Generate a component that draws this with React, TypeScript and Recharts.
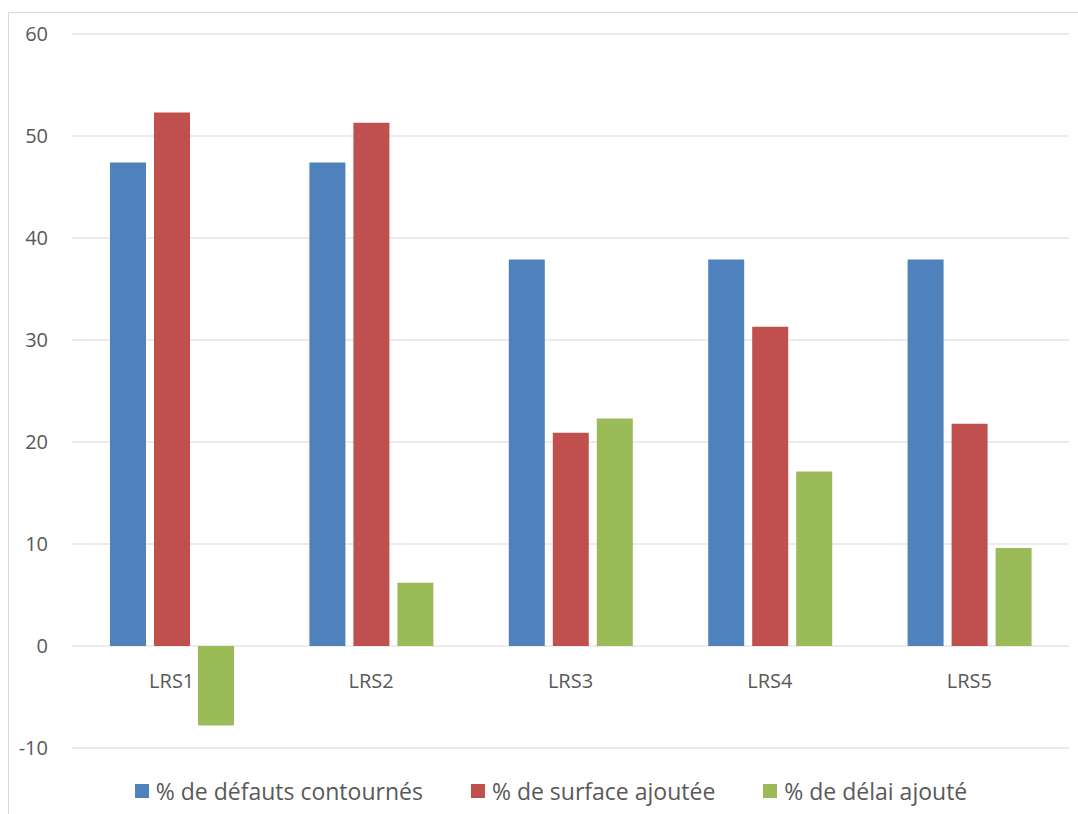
import React from "react";
import { BarChart, Bar, XAxis, YAxis, CartesianGrid, Legend } from "recharts";

const categories = ["LRS1", "LRS2", "LRS3", "LRS4", "LRS5"];
const defautsContournes = [47.4, 47.4, 37.9, 37.9, 37.9];
const surfaceAjoutee = [52.3, 51.3, 20.9, 31.3, 21.8];
const delaiAjoute = [-7.8, 6.2, 22.3, 17.1, 9.6];
const yTicks = [-10, 0, 10, 20, 30, 40, 50, 60];

const seriesNames = ["% de défauts contournés", "% de surface ajoutée", "% de délai ajouté"];
const colors = ["#4F81BD", "#C0504D", "#9BBB59"];

const data = categories.map((c, i) => ({
  name: c,
  a: defautsContournes[i],
  b: surfaceAjoutee[i],
  c: delaiAjoute[i],
}));

const W = 1078;
const H = 814;
const M_TOP = 34;
const LEGEND_H = 40;
const XAXIS_H = 26;
const PLOT_BOTTOM = H - LEGEND_H - XAXIS_H;
const Y_MIN = yTicks[0];
const Y_MAX = yTicks[yTicks.length - 1];
const ZERO_Y = M_TOP + ((PLOT_BOTTOM - M_TOP) * (Y_MAX - 0)) / (Y_MAX - Y_MIN);

const FONT = "'Open Sans', sans-serif";
const TEXT = "#595959";

const XTick = (props: any) => {
  const { x, payload } = props;
  return (
    <text x={x} y={ZERO_Y + 42} textAnchor="middle" fill={TEXT} fontSize={20} fontFamily={FONT}>
      {payload.value}
    </text>
  );
};

const LegendContent = () => (
  <div
    style={{
      height: LEGEND_H,
      display: "flex",
      justifyContent: "center",
      alignItems: "flex-start",
      paddingTop: 4,
      boxSizing: "border-box",
      gap: 48,
      fontFamily: FONT,
      fontSize: 23,
      color: TEXT,
      lineHeight: "26px",
      paddingLeft: 21,
    }}
  >
    {seriesNames.map((n, i) => (
      <div key={n} style={{ display: "flex", alignItems: "center" }}>
        <span style={{ width: 14, height: 14, background: colors[i], marginRight: 7, display: "inline-block" }} />
        <span>{n}</span>
      </div>
    ))}
  </div>
);

export default function App() {
  return (
    <div style={{ position: "absolute", left: 0, top: 0, width: W, height: H, background: "#fff", overflow: "hidden" }}>
      <div
        style={{
          position: "absolute",
          left: 8,
          top: 12,
          width: 1090,
          height: 820,
          border: "1px solid #d9d9d9",
        }}
      />
      <div style={{ position: "absolute", left: 0, top: 0 }}>
        <BarChart
          width={W}
          height={H}
          data={data}
          margin={{ top: M_TOP, right: 9, left: 12, bottom: 0 }}
          barCategoryGap={38}
          barGap={8}
        >
          <CartesianGrid vertical={false} stroke="#d9d9d9" strokeWidth={1} />
          <XAxis
            dataKey="name"
            axisLine={false}
            tickLine={false}
            height={XAXIS_H}
            tick={<XTick />}
            interval={0}
          />
          <YAxis
            domain={[Y_MIN, Y_MAX]}
            ticks={yTicks}
            axisLine={false}
            tickLine={false}
            width={60}
            tickMargin={18}
            tick={{ fill: TEXT, fontSize: 20, fontFamily: FONT }}
            interval={0}
          />
          <Legend verticalAlign="bottom" height={LEGEND_H} content={<LegendContent />} />
          <Bar dataKey="a" name={seriesNames[0]} fill={colors[0]} isAnimationActive={false} />
          <Bar dataKey="b" name={seriesNames[1]} fill={colors[1]} isAnimationActive={false} />
          <Bar dataKey="c" name={seriesNames[2]} fill={colors[2]} isAnimationActive={false} />
        </BarChart>
      </div>
    </div>
  );
}
